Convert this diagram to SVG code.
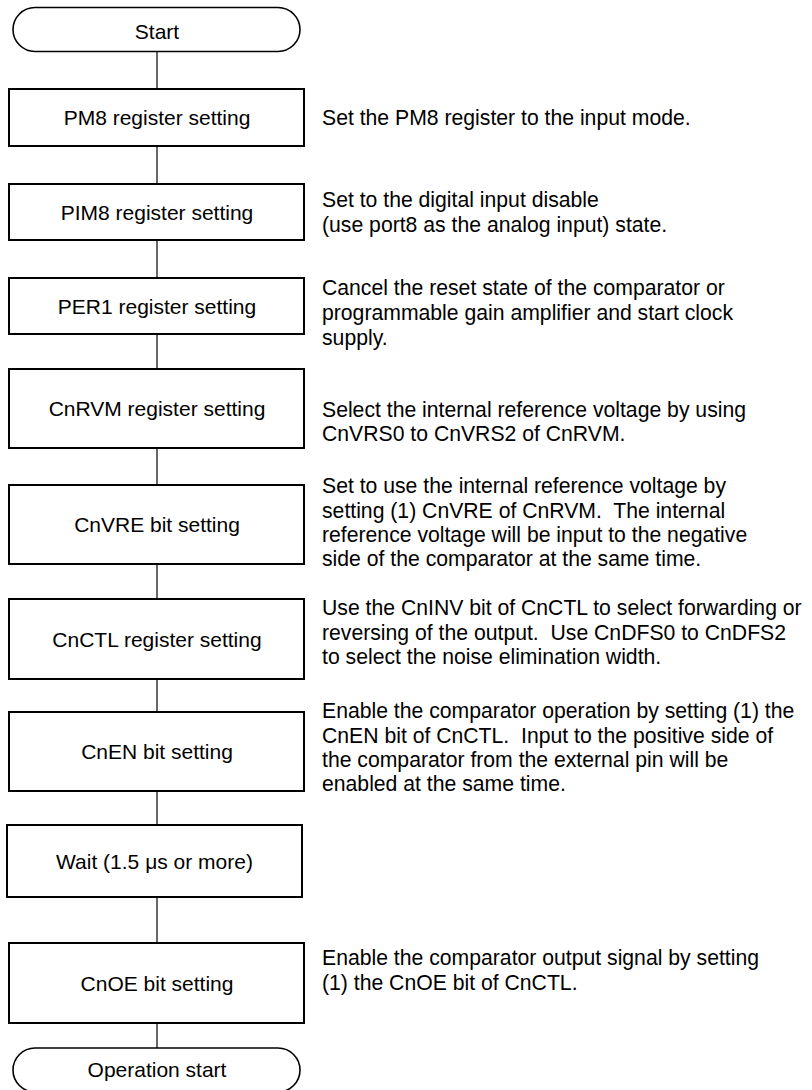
<svg xmlns="http://www.w3.org/2000/svg" width="812" height="1090" viewBox="0 0 812 1090">
<style>
.box{fill:#fff;stroke:#000;stroke-width:2}
.term{fill:#fff;stroke:#000;stroke-width:1.6}
.lbl{font-family:"Liberation Sans",Arial,sans-serif;font-size:21px;fill:#000;text-anchor:middle}
.desc{font-family:"Liberation Sans",Arial,sans-serif;font-size:21.2px;fill:#000}
.conn{stroke:#000;stroke-width:1.2;fill:none}
</style>
<rect width="812" height="1090" fill="#fff"/>
<g id="connectors">
<line class="conn" x1="157" y1="51" x2="157" y2="89"/>
<line class="conn" x1="157" y1="146" x2="157" y2="184"/>
<line class="conn" x1="157" y1="240" x2="157" y2="278"/>
<line class="conn" x1="157" y1="334" x2="157" y2="369"/>
<line class="conn" x1="157" y1="448" x2="157" y2="485"/>
<line class="conn" x1="157" y1="564" x2="157" y2="599"/>
<line class="conn" x1="157" y1="679" x2="157" y2="712"/>
<line class="conn" x1="157" y1="791" x2="157" y2="825"/>
<line class="conn" x1="157" y1="897" x2="157" y2="943"/>
<line class="conn" x1="157" y1="1023" x2="157" y2="1048"/>
</g>
<g id="start">
<rect class="term" x="13" y="7.5" width="287" height="44" rx="22" ry="22"/>
<text class="lbl" x="157" y="39">Start</text>
</g>
<g id="pm8">
<rect class="box" x="9" y="89" width="295" height="57"/>
<text class="lbl" x="157" y="125">PM8 register setting</text>
<text class="desc" x="322" y="125">Set the PM8 register to the input mode.</text>
</g>
<g id="pim8">
<rect class="box" x="9" y="184" width="295" height="56"/>
<text class="lbl" x="157" y="220">PIM8 register setting</text>
<text class="desc" x="322" y="207">Set to the digital input disable</text>
<text class="desc" x="322" y="232">(use port8 as the analog input) state.</text>
</g>
<g id="per1">
<rect class="box" x="9" y="278" width="295" height="56"/>
<text class="lbl" x="157" y="313.5">PER1 register setting</text>
<text class="desc" x="322" y="295">Cancel the reset state of the comparator or</text>
<text class="desc" x="322" y="320">programmable gain amplifier and start clock</text>
<text class="desc" x="322" y="345">supply.</text>
</g>
<g id="cnrvm">
<rect class="box" x="9" y="369" width="295" height="79"/>
<text class="lbl" x="157" y="416">CnRVM register setting</text>
<text class="desc" x="322" y="417">Select the internal reference voltage by using</text>
<text class="desc" x="322" y="441">CnVRS0 to CnVRS2 of CnRVM.</text>
</g>
<g id="cnvre">
<rect class="box" x="9" y="485" width="295" height="79"/>
<text class="lbl" x="157" y="532">CnVRE bit setting</text>
<text class="desc" x="322" y="493">Set to use the internal reference voltage by</text>
<text class="desc" x="322" y="518" xml:space="preserve">setting (1) CnVRE of CnRVM.  The internal</text>
<text class="desc" x="322" y="542">reference voltage will be input to the negative</text>
<text class="desc" x="322" y="566">side of the comparator at the same time.</text>
</g>
<g id="cnctl">
<rect class="box" x="9" y="599" width="295" height="80"/>
<text class="lbl" x="157" y="646.5">CnCTL register setting</text>
<text class="desc" x="322" y="615">Use the CnINV bit of CnCTL to select forwarding or</text>
<text class="desc" x="322" y="640" xml:space="preserve">reversing of the output.  Use CnDFS0 to CnDFS2</text>
<text class="desc" x="322" y="664">to select the noise elimination width.</text>
</g>
<g id="cnen">
<rect class="box" x="9" y="712" width="295" height="79"/>
<text class="lbl" x="157" y="759">CnEN bit setting</text>
<text class="desc" x="322" y="718">Enable the comparator operation by setting (1) the</text>
<text class="desc" x="322" y="743" xml:space="preserve">CnEN bit of CnCTL.  Input to the positive side of</text>
<text class="desc" x="322" y="767">the comparator from the external pin will be</text>
<text class="desc" x="322" y="791">enabled at the same time.</text>
</g>
<g id="wait">
<rect class="box" x="7" y="825" width="295" height="72"/>
<text class="lbl" x="154.5" y="868.5">Wait (1.5 μs or more)</text>
</g>
<g id="cnoe">
<rect class="box" x="9" y="943" width="295" height="80"/>
<text class="lbl" x="157" y="990.5">CnOE bit setting</text>
<text class="desc" x="322" y="965">Enable the comparator output signal by setting</text>
<text class="desc" x="322" y="990">(1) the CnOE bit of CnCTL.</text>
</g>
<g id="opstart">
<rect class="term" x="13" y="1048" width="287" height="44" rx="22" ry="22"/>
<text class="lbl" x="157" y="1077">Operation start</text>
</g>
</svg>
